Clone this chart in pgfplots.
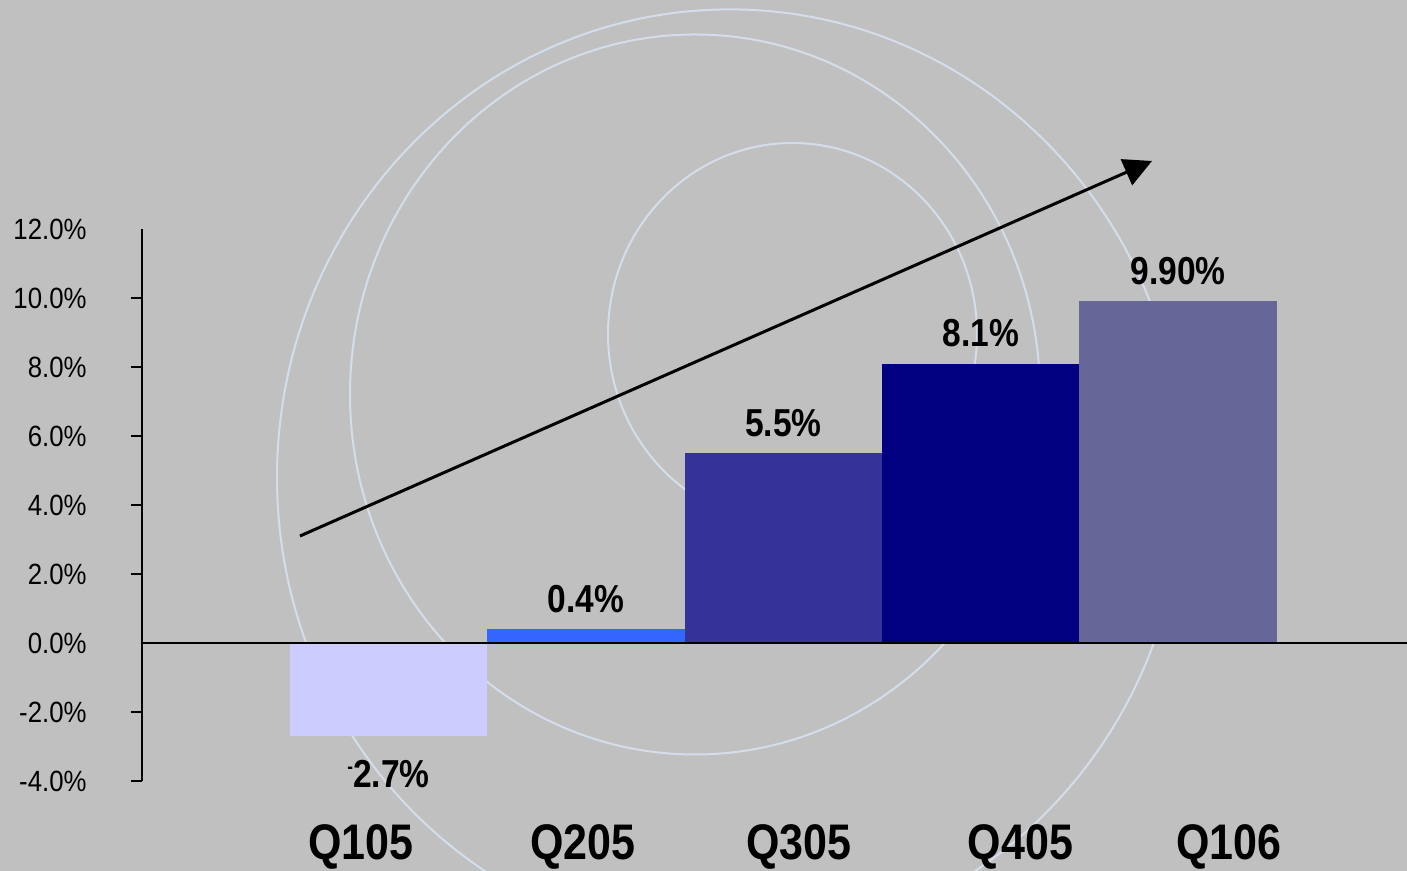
\documentclass[border=0pt]{standalone}
\usepackage{fontspec}
\setmainfont{Liberation Sans}[FakeStretch=0.88]
\newfontfamily\narrowfont{Liberation Sans}[FakeStretch=0.86]
\usepackage{pgfplots}
\pgfplotsset{compat=1.18}
\usetikzlibrary{arrows.meta}
\definecolor{bg}{HTML}{C0C0C0}
\definecolor{circ}{RGB}{212,222,234}
\definecolor{c1}{HTML}{CCCCFF}
\definecolor{c2}{HTML}{3366FF}
\definecolor{c3}{HTML}{333399}
\definecolor{c4}{HTML}{000080}
\definecolor{c5}{HTML}{666699}
\begin{document}
\begin{tikzpicture}[x=0.5pt,y=0.5pt]
\useasboundingbox (0,0) rectangle (1407,871);
\fill[bg] (0,0) rectangle (1407,871);
\begin{scope}
\clip (0,0) rectangle (1407,871);
\draw[circ, line width=1pt] (730,393.6) ellipse [x radius=453, y radius=468];
\draw[circ, line width=1pt] (695,476.5) ellipse [x radius=345, y radius=360];
\draw[circ, line width=1pt] (792.5,537) ellipse [x radius=184.5, y radius=191];
\end{scope}
\begin{axis}[
  at={(71pt,45pt)}, anchor=south west,
  scale only axis, width=632.5pt, height=276pt,
  xmin=-1.2487, xmax=5.1596, ymin=-4, ymax=12,
  axis y line*=left, axis x line*=bottom,
  x axis line style={draw=none},
  y axis line style={black, line width=1pt},
  ytick={-4,-2,...,12},
  yticklabels={-4.0\%,-2.0\%,0.0\%,2.0\%,4.0\%,6.0\%,8.0\%,10.0\%,12.0\%},
  major tick length=0pt,
  yticklabel style={font=\fontsize{14.65pt}{14.65pt}\selectfont, anchor=east, inner sep=0pt, xshift=-27.5pt},
  extra y ticks={-4,-2,2,4,6,8,10},
  extra y tick labels={},
  extra y tick style={major tick length=5.5pt, tick align=outside, tick style={black, line width=1pt}},
  xtick={-0.139,0.985,2.080,3.202,4.258},
  xticklabels={Q105,Q205,Q305,Q405,Q106},
  xtick style={draw=none},
  xticklabel style={font=\narrowfont\bfseries\fontsize{25pt}{25pt}\selectfont, anchor=base, inner sep=0pt, yshift=-39.5pt},
  every node near coord/.append style={font=\narrowfont\bfseries\fontsize{19.5pt}{19.5pt}\selectfont, inner sep=0pt, anchor=base, black},
]
\addplot[ybar, bar shift=0pt, bar width=1, fill=c1, draw=none,
  nodes near coords={\raisebox{7pt}{\fontsize{10pt}{10pt}\selectfont -}2.7\%},
  every node near coord/.append style={anchor=base, yshift=-25.5pt}] coordinates {(0,-2.7)};
\addplot[ybar, bar shift=0pt, bar width=1, fill=c2, draw=none,
  nodes near coords={0.4\%},
  every node near coord/.append style={anchor=base, yshift=8.5pt}] coordinates {(1,0.4)};
\addplot[ybar, bar shift=0pt, bar width=1, fill=c3, draw=none,
  nodes near coords={5.5\%},
  every node near coord/.append style={anchor=base, yshift=8.5pt}] coordinates {(2,5.5)};
\addplot[ybar, bar shift=0pt, bar width=1, fill=c4, draw=none,
  nodes near coords={8.1\%},
  every node near coord/.append style={anchor=base, yshift=8.5pt}] coordinates {(3,8.1)};
\addplot[ybar, bar shift=0pt, bar width=1, fill=c5, draw=none,
  nodes near coords={9.90\%},
  every node near coord/.append style={anchor=base, yshift=8.5pt}] coordinates {(4,9.9)};
\draw[black, line width=1pt] (axis cs:-1.2487,0) -- (axis cs:5.1596,0);
\end{axis}
\draw[black, line width=1.5pt, -{Triangle[length=14pt,width=14pt]}] (300,335) -- (1152,710);
\end{tikzpicture}
\end{document}
